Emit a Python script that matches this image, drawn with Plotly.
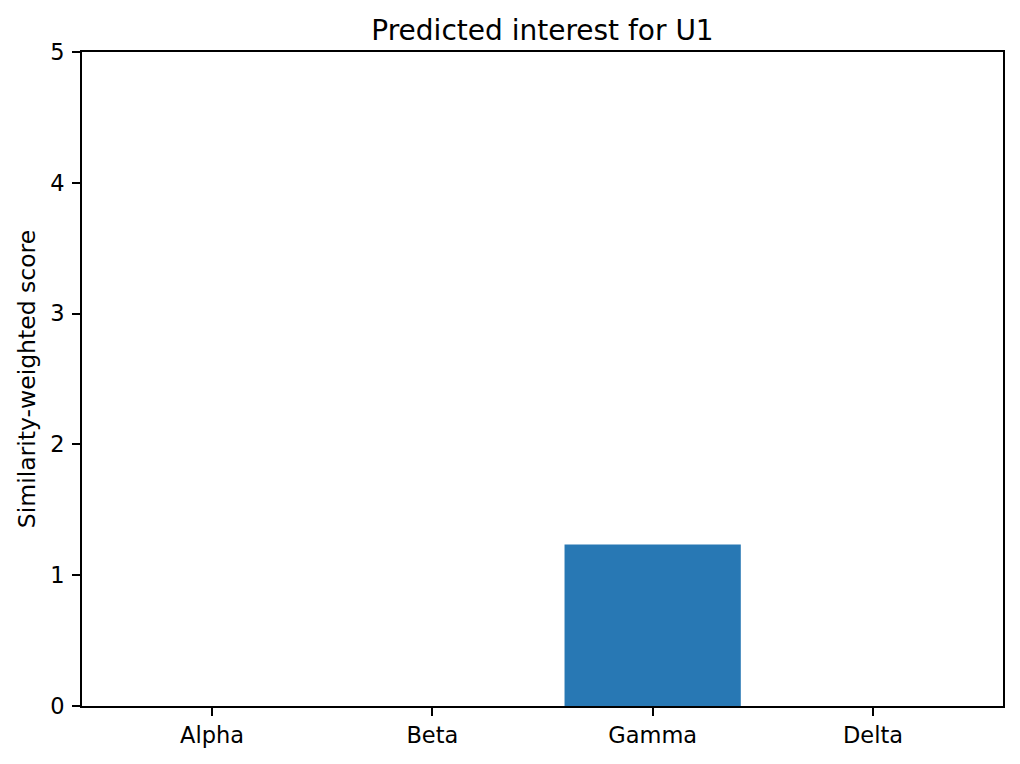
import plotly.graph_objects as go

categories = ["Alpha", "Beta", "Gamma", "Delta"]
scores = [0.0, 0.0, 1.235, 0.0]
y_ticks = [0, 1, 2, 3, 4, 5]

FONT = "DejaVu Sans"

fig = go.Figure()
fig.add_trace(go.Bar(
    x=list(range(len(categories))),
    y=scores,
    width=0.8,
    marker=dict(color="#2878b4", line=dict(width=0)),
))

# the page body has an 8px default margin, so the figure is offset by 8px
fig.update_layout(
    width=1012, height=756,
    paper_bgcolor="white", plot_bgcolor="white",
    margin=dict(l=73.5, r=17, t=44, b=57.5, pad=0),
    showlegend=False,
    font=dict(family=FONT, size=22.5, color="black"),
    title=dict(text="Predicted interest for U1", x=0.5, xref="paper", xanchor="center",
               y=1 - 22 / 756, yanchor="middle",
               font=dict(family=FONT, size=28, color="black")),
)
fig.update_xaxes(
    range=[-0.59, 3.59],
    tickmode="array", tickvals=list(range(len(categories))), ticktext=categories,
    ticks="outside", ticklen=8, tickwidth=1.7, tickcolor="black",
    showline=True, linecolor="black", linewidth=1.7, mirror=True,
    showgrid=False, zeroline=False,
    tickfont=dict(family=FONT, size=22.5, color="black"),
)
fig.update_yaxes(
    range=[0, 5],
    tickmode="array", tickvals=y_ticks, ticktext=[str(v) for v in y_ticks],
    ticks="outside", ticklen=8, tickwidth=1.7, tickcolor="black",
    ticklabelstandoff=3,
    showline=True, linecolor="black", linewidth=1.7, mirror=True,
    showgrid=False, zeroline=False,
    tickfont=dict(family=FONT, size=22.5, color="black"),
    title=dict(text="Similarity-weighted score", standoff=8,
               font=dict(family=FONT, size=23.5, color="black")),
)

fig.write_html("out.html")
